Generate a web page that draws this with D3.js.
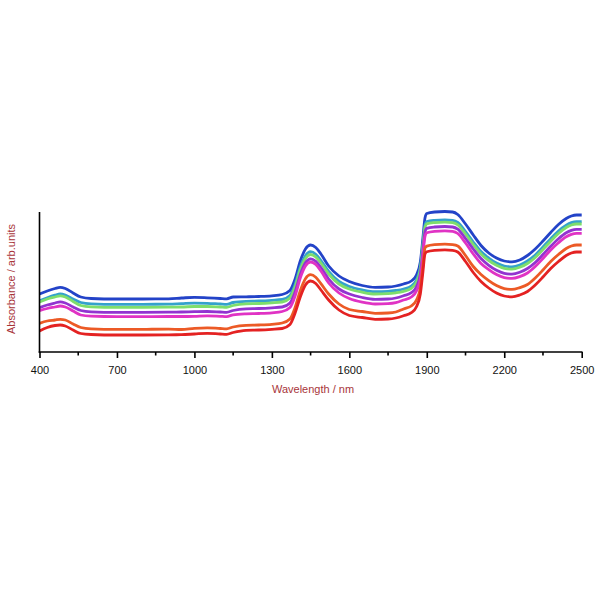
<!DOCTYPE html>
<html><head><meta charset="utf-8">
<script src="https://cdn.jsdelivr.net/npm/d3@7"></script>
<style>html,body{margin:0;padding:0;background:#fff;}svg{display:block;}</style>
</head><body>
<svg id="chart" width="600" height="600"></svg>
<script>
const wavelengths = [400,430,460,480,500,530,560,600,700,800,900,950,1000,1050,1100,1125,1150,1200,1250,1300,1340,1370,1390,1410,1430,1450,1470,1490,1520,1560,1600,1650,1700,1750,1780,1810,1840,1860,1875,1885,1893,1900,1930,1970,2000,2020,2050,2080,2110,2140,2170,2200,2230,2260,2290,2320,2350,2380,2410,2440,2460,2480,2500];
const blue = [.580,.610,.635,.647,.635,.590,.550,.535,.530,.530,.532,.540,.547,.542,.535,.532,.550,.552,.555,.562,.575,.615,.730,.910,1.030,1.070,1.045,.980,.860,.760,.705,.665,.647,.650,.660,.680,.710,.770,.900,1.140,1.340,1.385,1.400,1.405,1.400,1.375,1.280,1.170,1.065,.990,.940,.910,.902,.920,.965,1.030,1.110,1.195,1.275,1.335,1.360,1.370,1.370];
const teal = [.513,.543,.568,.580,.570,.530,.495,.482,.477,.477,.479,.484,.489,.487,.480,.477,.495,.507,.510,.517,.525,.565,.675,.850,.963,1.003,.978,.915,.805,.705,.655,.621,.603,.606,.615,.630,.660,.720,.850,1.080,1.270,1.305,1.317,1.322,1.317,1.295,1.205,1.100,1.005,.940,.890,.860,.852,.870,.910,.970,1.050,1.133,1.210,1.268,1.293,1.303,1.303];
const green = [.500,.530,.550,.562,.550,.505,.465,.452,.447,.447,.449,.450,.455,.455,.450,.447,.465,.482,.485,.492,.500,.540,.650,.822,.935,.975,.950,.890,.780,.680,.630,.598,.580,.583,.592,.607,.637,.697,.825,1.055,1.245,1.282,1.294,1.299,1.294,1.272,1.180,1.075,.980,.915,.867,.837,.829,.847,.885,.945,1.025,1.108,1.185,1.245,1.270,1.280,1.280];
const purple = [.443,.470,.490,.502,.490,.450,.415,.402,.397,.397,.399,.400,.403,.405,.400,.397,.415,.432,.435,.442,.450,.490,.600,.775,.892,.932,.907,.845,.730,.630,.580,.545,.527,.530,.540,.563,.593,.653,.780,1.010,1.200,1.237,1.250,1.255,1.250,1.228,1.135,1.030,.935,.867,.817,.787,.779,.797,.835,.895,.975,1.057,1.132,1.192,1.217,1.227,1.227];
const magenta = [.413,.435,.450,.460,.450,.410,.370,.358,.353,.353,.355,.355,.357,.362,.357,.354,.372,.382,.385,.392,.405,.445,.560,.740,.860,.900,.875,.810,.690,.590,.535,.498,.480,.483,.493,.520,.550,.610,.735,.965,1.155,1.192,1.207,1.212,1.207,1.185,1.090,.980,.885,.824,.774,.744,.736,.754,.790,.855,.935,1.020,1.092,1.152,1.177,1.187,1.187];
const orange = [.287,.310,.320,.327,.320,.280,.245,.232,.227,.227,.229,.225,.237,.242,.235,.232,.250,.267,.270,.277,.290,.330,.445,.613,.733,.773,.748,.683,.580,.480,.425,.405,.387,.390,.400,.430,.460,.520,.640,.860,1.040,1.059,1.074,1.079,1.074,1.060,.965,.855,.775,.714,.664,.634,.626,.644,.675,.740,.820,.905,.975,1.035,1.060,1.070,1.070];
const red = [.210,.245,.265,.270,.260,.220,.185,.175,.170,.170,.172,.173,.180,.187,.180,.177,.195,.217,.220,.227,.235,.275,.390,.550,.670,.710,.685,.620,.520,.420,.365,.345,.327,.330,.340,.363,.393,.453,.580,.800,.980,1.002,1.017,1.022,1.017,1.000,.905,.795,.705,.640,.590,.560,.552,.570,.605,.670,.750,.835,.905,.965,.990,1.000,1.000];
const seriesNames = ["blue","teal","green","purple","magenta","orange","red"];
const seriesValues = [blue, teal, green, purple, magenta, orange, red];
const seriesColors = ["#2343c8","#34a2cc","#7ede6c","#9233d0","#e033c4","#ec5a26","#e42222"];
const majorTicks = [400,700,1000,1300,1600,1900,2200,2500];
const minorTicks = [550,850,1150,1450,1750,2050,2350];
const xTitle = "Wavelength / nm";
const yTitle = "Absorbance / arb.units";

const svg = d3.select("#chart");
const x = d3.scaleLinear().domain([400,2500]).range([39.5,581.7]);
const y = d3.scaleLinear().domain([0,1.4]).range([352,212]);

const line = d3.line().x(d=>x(d[0])).y(d=>y(d[1])).curve(d3.curveMonotoneX);
seriesValues.forEach((vals,i)=>{
  svg.append("path")
    .datum(wavelengths.map((w,j)=>[w,vals[j]]))
    .attr("fill","none")
    .attr("stroke",seriesColors[i])
    .attr("stroke-width",2.8)
    .attr("stroke-linejoin","round")
    .attr("d",line);
});

// x axis
const gx = svg.append("g").attr("transform","translate(0,352)");
gx.call(d3.axisBottom(x).tickValues(majorTicks).tickSize(6).tickPadding(8).tickFormat(d3.format("d")));
gx.select(".domain").attr("stroke","#000").attr("stroke-width",1.6).attr("d","M38.7,0H582.5");
gx.selectAll(".tick line").attr("stroke","#000").attr("stroke-width",1.6);
gx.selectAll(".tick text").attr("font-family","Arial, 'Liberation Sans', sans-serif").attr("font-size",11).attr("fill","#111");
const gm = svg.append("g").attr("transform","translate(0,352)");
gm.selectAll("line").data(minorTicks).join("line")
  .attr("x1",d=>x(d)).attr("x2",d=>x(d)).attr("y1",0).attr("y2",3.5)
  .attr("stroke","#000").attr("stroke-width",1.6);

// y axis (no ticks)
svg.append("line").attr("x1",39.5).attr("x2",39.5).attr("y1",212).attr("y2",352.8)
  .attr("stroke","#000").attr("stroke-width",1.6);

svg.append("text").attr("x",313).attr("y",393).attr("text-anchor","middle")
  .attr("font-family","Arial, 'Liberation Sans', sans-serif").attr("font-size",11)
  .attr("fill","#a8353a").text(xTitle);
svg.append("text").attr("transform","translate(14.5,279) rotate(-90)").attr("text-anchor","middle")
  .attr("font-family","Arial, 'Liberation Sans', sans-serif").attr("font-size",11)
  .attr("fill","#a8353a").text(yTitle);
</script>
</body></html>
